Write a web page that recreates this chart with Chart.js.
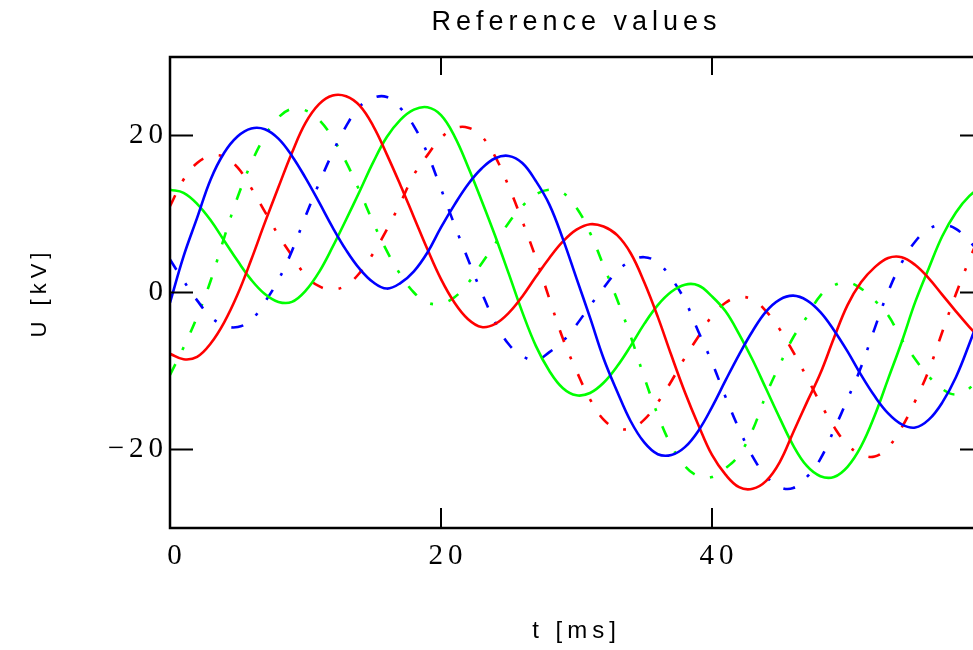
<!DOCTYPE html>
<html>
<head>
<meta charset="utf-8">
<title>Reference values</title>
<script src="https://cdn.jsdelivr.net/npm/chart.js@4.4.0/dist/chart.umd.min.js"></script>
<style>
  html, body { margin: 0; padding: 0; background: #fff; overflow: hidden; }
  #wrap { width: 1000px; height: 650px; }
</style>
</head>
<body>
<div id="wrap"><canvas id="uChart" width="1000" height="650"></canvas></div>
<script>
// time base in ms
var tMs = [0, 1, 2, 3, 4, 5, 6, 7, 8, 9, 10, 11, 12, 13, 14, 15, 16, 17, 18, 19, 20,
  21, 22, 23, 24, 25, 26, 27, 28, 29, 30, 31, 32, 33, 34, 35, 36, 37, 38, 39, 40,
  41, 42, 43, 44, 45, 46, 47, 48, 49, 50, 51, 52, 53, 54, 55, 56, 57, 58, 59, 60];

// phase voltages in kV (solid traces)
var uBlue = [-1.3, 4.6, 9.5, 14.4, 17.8, 19.9, 20.9, 20.8, 19.6, 17.4, 14.6, 11.5, 8.3, 5.4, 3.0, 1.3, 0.5, 1.2, 2.7, 5.1,
  8.3, 11.2, 13.8, 15.8, 17.1, 17.4, 16.5, 14.2, 11.2, 6.8, 1.8, -3.2, -8.4, -12.6, -16.4, -19.1, -20.6, -20.7, -19.7, -17.6,
  -14.6, -11.2, -7.9, -4.9, -2.4, -0.9, -0.4, -1.0, -2.5, -4.8, -7.5, -10.5, -13.2, -15.4, -16.8, -17.2, -16.2, -14.0, -10.8, -6.5, -1.8];
var uRed = [-7.8, -8.5, -8.2, -6.5, -3.8, -0.2, 4.2, 8.9, 13.4, 17.8, 21.6, 24.0, 25.1, 25.0, 23.8, 21.2, 17.6, 13.7, 9.6, 5.5,
  1.7, -1.3, -3.4, -4.4, -4.0, -2.6, -0.5, 2.0, 4.4, 6.5, 8.0, 8.7, 8.4, 7.3, 5.0, 1.3, -3.1, -8.0, -12.7, -16.9,
  -20.7, -23.2, -24.8, -25.0, -24.0, -21.6, -17.8, -14.0, -10.3, -5.8, -1.6, 1.3, 3.2, 4.4, 4.5, 3.5, 1.8, -0.3, -2.4, -4.4, -6.2];
var uGreen = [13.1, 12.7, 11.3, 9.2, 6.6, 4.0, 1.6, -0.2, -1.2, -1.2, 0.2, 2.6, 5.8, 9.3, 12.9, 16.6, 19.8, 22.0, 23.3, 23.6,
  22.6, 19.9, 16.0, 11.7, 7.2, 2.4, -2.5, -6.8, -10.0, -12.2, -13.1, -12.8, -11.5, -9.4, -6.8, -4.0, -1.6, 0.1, 1.0, 0.9,
  -0.5, -2.4, -5.3, -8.6, -12.3, -16.0, -19.5, -22.1, -23.4, -23.5, -22.2, -19.6, -15.7, -11.0, -6.3, -1.2, 3.1, 7.2, 10.2, 12.3, 13.6];

// reference voltages in kV (dashed traces)
var uBlueRef = [4.2, 1.5, -1.0, -3.1, -4.2, -4.4, -3.5, -1.2, 1.6, 5.3, 9.7, 13.9, 17.8, 21.2, 23.7, 24.8, 24.9, 23.5, 21.2, 17.7,
  13.2, 8.6, 4.2, 0.0, -3.8, -6.6, -8.1, -8.6, -7.6, -6.2, -4.1, -1.7, 0.6, 2.7, 4.0, 4.5, 3.8, 1.8, -1.0, -5.0,
  -8.9, -13.3, -17.4, -20.9, -23.4, -24.8, -24.9, -23.5, -21.2, -17.5, -13.6, -9.5, -4.6, 0.1, 3.8, 6.5, 8.1, 8.6, 8.1, 6.5, 4.6];
var uRedRef = [11.0, 14.4, 16.5, 17.4, 17.3, 15.9, 13.3, 10.3, 7.3, 4.7, 2.2, 0.8, 0.4, 0.9, 2.5, 5.0, 8.0, 11.4, 15.0, 17.5,
  19.7, 20.9, 21.0, 19.9, 17.3, 13.5, 9.1, 4.4, -0.8, -5.9, -10.0, -13.6, -16.2, -17.3, -17.3, -16.2, -14.0, -11.3, -8.3, -5.6,
  -3.0, -1.3, -0.6, -0.9, -2.4, -4.7, -7.6, -10.8, -14.1, -17.1, -19.4, -20.6, -20.9, -19.7, -17.2, -13.8, -9.9, -5.0, -0.2, 4.2, 8.2];
var uGreenRef = [-10.5, -7.0, -3.1, 1.5, 7.0, 12.2, 16.5, 19.9, 22.3, 23.4, 23.2, 22.0, 19.7, 16.6, 12.9, 8.9, 5.3, 2.3, 0.0, -1.3,
  -1.4, -0.6, 1.2, 3.7, 6.2, 8.9, 11.0, 12.5, 13.1, 12.7, 10.8, 7.6, 3.4, -0.9, -5.6, -10.8, -15.6, -19.5, -22.1, -23.4,
  -23.5, -22.4, -20.7, -17.5, -13.0, -9.2, -5.7, -3.1, -0.4, 0.9, 1.3, 0.5, -1.0, -2.9, -6.0, -8.5, -10.7, -12.3, -13.0, -12.2, -10.2];

var xTickVals = [0, 20, 40];
var yTickVals = [-20, 0, 20];

function toPoints(vals) {
  return tMs.map(function (t, i) { return { x: t, y: vals[i] }; });
}

function fmt(v) {
  return v < 0 ? '\u2212' + Math.abs(v) : String(v);
}

// wide letter spacing for all canvas text (state is lost when the canvas is resized)
var spacing = {
  id: 'spacing',
  beforeUpdate: function (chart) { chart.ctx.letterSpacing = '5px'; },
  beforeDraw: function (chart) { chart.ctx.letterSpacing = '5px'; }
};

// box around the plot with short inward ticks on every side
var frame = {
  id: 'frame',
  afterDatasetsDraw: function (chart) {
    var ctx = chart.ctx, a = chart.chartArea;
    var xs = chart.scales.x, ys = chart.scales.y;
    ctx.save();
    ctx.strokeStyle = '#000';
    ctx.lineWidth = 2;
    ctx.beginPath();
    xTickVals.forEach(function (v) {
      var px = xs.getPixelForValue(v);
      ctx.moveTo(px, a.bottom); ctx.lineTo(px, a.bottom - 20);
      ctx.moveTo(px, a.top); ctx.lineTo(px, a.top + 18);
    });
    yTickVals.forEach(function (v) {
      var py = ys.getPixelForValue(v);
      ctx.moveTo(a.left, py); ctx.lineTo(a.left + 23, py);
      ctx.moveTo(a.right, py); ctx.lineTo(a.right - 23, py);
    });
    ctx.stroke();
    ctx.lineWidth = 2.5;
    ctx.strokeRect(a.left, a.top, a.right - a.left, a.bottom - a.top);
    ctx.restore();
  }
};

Chart.defaults.font.family = 'Liberation Sans';
Chart.defaults.color = '#000';

var solid = { borderWidth: 2.6, pointRadius: 0, fill: false, tension: 0.4 };
var dashed = { borderWidth: 2.6, pointRadius: 0, fill: false, tension: 0.4, borderDash: [12, 16, 3, 16] };

var ctx = document.getElementById('uChart').getContext('2d');
var uChart = new Chart(ctx, {
  type: 'line',
  data: {
    datasets: [
      Object.assign({ label: 'u1', data: toPoints(uBlue), borderColor: '#0000ff' }, solid),
      Object.assign({ label: 'u2', data: toPoints(uRed), borderColor: '#ff0000' }, solid),
      Object.assign({ label: 'u3', data: toPoints(uGreen), borderColor: '#00ff00' }, solid),
      Object.assign({ label: 'u1 ref', data: toPoints(uBlueRef), borderColor: '#0000ff' }, dashed),
      Object.assign({ label: 'u2 ref', data: toPoints(uRedRef), borderColor: '#ff0000' }, dashed),
      Object.assign({ label: 'u3 ref', data: toPoints(uGreenRef), borderColor: '#00ff00' }, dashed)
    ]
  },
  options: {
    responsive: false,
    animation: false,
    layout: { padding: { left: 0, right: 17, top: 0, bottom: 0 } },
    plugins: {
      legend: { display: false },
      tooltip: { enabled: false },
      title: {
        display: true,
        text: 'Reference values',
        fullSize: false,
        color: '#000',
        font: { family: 'Liberation Sans', size: 27, weight: 'normal' },
        padding: { top: 6, bottom: 18.6 }
      }
    },
    scales: {
      x: {
        type: 'linear',
        min: 0,
        max: 60,
        grid: { display: false, drawTicks: false },
        border: { display: false },
        afterBuildTicks: function (s) { s.ticks = xTickVals.map(function (v) { return { value: v }; }); },
        afterFit: function (s) { s.height = 122; },
        ticks: {
          padding: 11,
          labelOffset: 7,
          maxRotation: 0,
          color: '#000',
          font: { family: 'Liberation Serif', size: 29 },
          callback: fmt
        },
        title: {
          display: true,
          text: 't [ms]',
          color: '#000',
          font: { family: 'Liberation Sans', size: 24 },
          padding: { top: 0, bottom: 4 }
        }
      },
      y: {
        min: -30,
        max: 30,
        grid: { display: false, drawTicks: false },
        border: { display: false },
        afterBuildTicks: function (s) { s.ticks = yTickVals.map(function (v) { return { value: v }; }); },
        afterFit: function (s) { s.width = 170; },
        ticks: {
          padding: 2,
          color: '#000',
          font: { family: 'Liberation Serif', size: 29 },
          callback: fmt
        },
        title: {
          display: true,
          text: 'U [kV]',
          color: '#000',
          font: { family: 'Liberation Sans', size: 22 },
          padding: { top: 27, bottom: 0 }
        }
      }
    }
  },
  plugins: [spacing, frame]
});
</script>
</body>
</html>
